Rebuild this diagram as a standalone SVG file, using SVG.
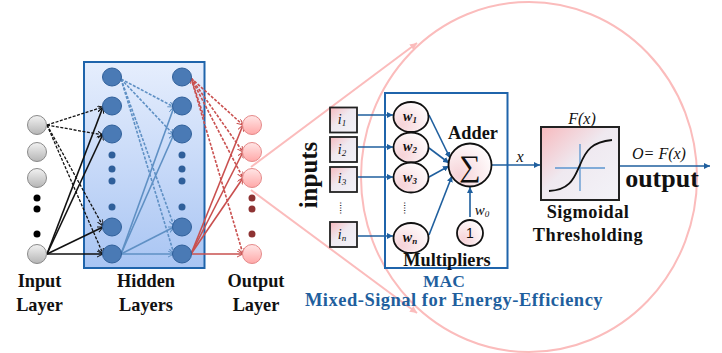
<svg xmlns="http://www.w3.org/2000/svg" width="722" height="353" viewBox="0 0 722 353">
<defs>
<linearGradient id="bx" x1="0" y1="0" x2="0" y2="1"><stop offset="0" stop-color="#e6eefd"/><stop offset="1" stop-color="#a9c5f3"/></linearGradient>
<linearGradient id="gy" x1="0" y1="0" x2="0" y2="1"><stop offset="0" stop-color="#f2f2f2"/><stop offset="1" stop-color="#b5b5b5"/></linearGradient>
<linearGradient id="pk" x1="0" y1="0" x2="0" y2="1"><stop offset="0" stop-color="#ffe6e6"/><stop offset="1" stop-color="#ffa8a8"/></linearGradient>
<linearGradient id="sq" x1="0" y1="0" x2="1" y2="1"><stop offset="0" stop-color="#f7b9bd"/><stop offset="0.45" stop-color="#efe9f0"/><stop offset="1" stop-color="#f3f3f8"/></linearGradient>
<radialGradient id="nd" cx="0.25" cy="0.75" r="0.9"><stop offset="0" stop-color="#f6d3d8"/><stop offset="1" stop-color="#ffffff"/></radialGradient>
<marker id="ak" markerWidth="8" markerHeight="8" refX="6" refY="3" orient="auto" markerUnits="userSpaceOnUse"><path d="M0,0L6,3L0,6" fill="none" stroke="#111" stroke-width="1"/></marker>
<marker id="ab" markerWidth="8" markerHeight="8" refX="6" refY="3" orient="auto" markerUnits="userSpaceOnUse"><path d="M0,0L6,3L0,6" fill="none" stroke="#5f90c4" stroke-width="1"/></marker>
<marker id="ar" markerWidth="8" markerHeight="8" refX="6" refY="3" orient="auto" markerUnits="userSpaceOnUse"><path d="M0,0L6,3L0,6" fill="none" stroke="#c9504f" stroke-width="1"/></marker>
<marker id="ad" markerWidth="7" markerHeight="6" refX="6" refY="3" orient="auto" markerUnits="userSpaceOnUse"><path d="M0,0L6,3L0,6Z" fill="#1f5f9e"/></marker>
<marker id="ap" markerWidth="8" markerHeight="8" refX="7" refY="3.500" orient="auto" markerUnits="userSpaceOnUse"><path d="M0,0L7,3.500L0,7Z" fill="#fbbcbc"/></marker>
</defs>
<style>
text{font-family:"Liberation Serif",serif;fill:#111}
.lb{font-weight:bold;font-size:18.300px;text-anchor:middle}
.wd{letter-spacing:.5px}
.i{font-style:italic;text-anchor:middle}
.iw{font-style:italic;font-weight:bold;font-size:14px;text-anchor:middle}
.blue{fill:#1f5f9e;font-weight:bold;text-anchor:middle;font-size:18.500px}
.in{fill:url(#gy);stroke:#8a8a8a;stroke-width:1}
.hd{fill:#4a7ab5;stroke:#2f5f9a;stroke-width:1}
.ou{fill:url(#pk);stroke:#e58a8a;stroke-width:1}
.dk{stroke:#111;stroke-width:1.600;fill:none;marker-end:url(#ak)}
.dd{stroke-dasharray:3 1.500;stroke-width:1.300}
.bl{stroke:#5f90c4;stroke-width:1.600;fill:none;marker-end:url(#ab)}
.rd{stroke:#c9504f;stroke-width:1.600;fill:none;marker-end:url(#ar)}
.dr{stroke:#1f5f9e;stroke-width:1.600;fill:none;marker-end:url(#ad)}
.sb{fill:url(#sq);stroke:#222;stroke-width:1.800}
.mul{fill:url(#nd);stroke:#111;stroke-width:1.800}
</style>
<g id="zoom-cone" fill="none" stroke="#fbbcbc" stroke-width="2">
<ellipse cx="529" cy="177" rx="168" ry="175"/>
<path d="M251,167L417,43" marker-end="url(#ap)"/><path d="M251,190L417,313" marker-end="url(#ap)"/>
</g>
<g id="hidden-box"><rect x="84" y="62" width="120.500" height="206" fill="url(#bx)" stroke="#1f64ab" stroke-width="2"/></g>
<g id="connectors">
<path class="dk dd" d="M47,125L103,107"/><path class="dk dd" d="M47,125L103,135"/><path class="dk dd" d="M47,125L103,226"/><path class="dk dd" d="M47,125L103,254"/>
<path class="dk" d="M47,254L103,107"/><path class="dk" d="M47,254L103,134"/><path class="dk" d="M47,254L103,227"/><path class="dk" d="M47,254L103,254"/>
<path class="bl dd" d="M121,79L174,107"/><path class="bl dd" d="M121,79L174,135"/><path class="bl dd" d="M121,79L174,226"/><path class="bl dd" d="M121,79L174,254"/>
<path class="bl" d="M121,254L174,107"/><path class="bl" d="M121,254L174,134"/><path class="bl" d="M121,254L174,227"/><path class="bl" d="M121,254L174,254"/>
<path class="rd dd" d="M191,78L243,125"/><path class="rd dd" d="M191,78L243,152"/><path class="rd dd" d="M191,78L243,178"/><path class="rd dd" d="M191,78L243,254"/>
<path class="rd dd" d="M204,117L191,78"/>
<path class="rd" d="M191,254L243,125"/><path class="rd" d="M191,254L243,152"/><path class="rd" d="M191,254L243,178"/><path class="rd" d="M191,254L243,254"/>
<path class="dr" d="M358,115L393,115"/><path class="dr" d="M358,147L393,147"/><path class="dr" d="M358,177L393,177"/><path class="dr" d="M358,236L393,236"/>
<path class="dr" d="M429,115L450,158"/><path class="dr" d="M429,148L449,163"/><path class="dr" d="M429,177L449,166"/><path class="dr" d="M429,235L452,176"/>
<path class="dr" d="M470,217L470,187"/>
<path class="dr" d="M492,165L540,165"/>
<path class="dr" d="M619,166L710,166"/>
</g>
<g id="input-layer">
<circle class="in" cx="37" cy="125" r="9.500"/><circle class="in" cx="37" cy="152" r="9.500"/><circle class="in" cx="37" cy="178" r="9.500"/><circle class="in" cx="37" cy="254" r="9.500"/>
<g fill="#000"><circle cx="37" cy="198" r="3.500"/><circle cx="37" cy="209" r="3.500"/><circle cx="37" cy="234" r="3.500"/></g>
<text class="lb" x="39.500" y="287">Input</text><text class="lb" x="39.500" y="311">Layer</text>
</g>
<g id="hidden-layers">
<ellipse class="hd" cx="112" cy="77" rx="9.500" ry="9"/><ellipse class="hd" cx="112" cy="106" rx="9.500" ry="9"/><ellipse class="hd" cx="112" cy="134" rx="9.500" ry="9"/><ellipse class="hd" cx="112" cy="227" rx="9.500" ry="9"/><ellipse class="hd" cx="112" cy="254" rx="9.500" ry="9"/>
<ellipse class="hd" cx="182" cy="77" rx="9.500" ry="9"/><ellipse class="hd" cx="182" cy="106" rx="9.500" ry="9"/><ellipse class="hd" cx="182" cy="134" rx="9.500" ry="9"/><ellipse class="hd" cx="182" cy="227" rx="9.500" ry="9"/><ellipse class="hd" cx="182" cy="254" rx="9.500" ry="9"/>
<g fill="#2f5f9a"><circle cx="112" cy="155" r="3.500"/><circle cx="112" cy="169" r="3.500"/><circle cx="112" cy="181" r="3.500"/><circle cx="112" cy="207" r="3.500"/><circle cx="182" cy="155" r="3.500"/><circle cx="182" cy="169" r="3.500"/><circle cx="182" cy="181" r="3.500"/><circle cx="182" cy="207" r="3.500"/></g>
<text class="lb" x="146" y="287">Hidden</text><text class="lb" x="146" y="311">Layers</text>
</g>
<g id="output-layer">
<circle class="ou" cx="252" cy="125" r="9.500"/><circle class="ou" cx="252" cy="152" r="9.500"/><circle class="ou" cx="252" cy="178" r="9.500"/><circle class="ou" cx="252" cy="254" r="9.500"/>
<g fill="#8e3333"><circle cx="252" cy="198" r="3.500"/><circle cx="252" cy="209" r="3.500"/><circle cx="252" cy="234" r="3.500"/></g>
<text class="lb" x="256" y="287">Output</text><text class="lb" x="256" y="311">Layer</text>
</g>
<g id="inputs">
<text x="317" y="175" transform="rotate(-90 317 175)" text-anchor="middle" font-weight="bold" font-size="25">inputs</text>
<rect class="sb" x="330" y="107.500" width="27" height="25"/><text class="i" x="342" y="124" font-size="14">i<tspan font-size="9" dy="2">1</tspan></text>
<rect class="sb" x="330" y="137" width="27" height="25"/><text class="i" x="342" y="154" font-size="14">i<tspan font-size="9" dy="2">2</tspan></text>
<rect class="sb" x="330" y="167" width="27" height="25"/><text class="i" x="342" y="183" font-size="14">i<tspan font-size="9" dy="2">3</tspan></text>
<text x="344" y="212" font-size="10" text-anchor="middle" transform="rotate(90 344 208)">.....</text>
<rect class="sb" x="330" y="222" width="27" height="25"/><text class="i" x="342" y="239" font-size="14">i<tspan font-size="9" dy="2">n</tspan></text>
</g>
<g id="mac">
<rect x="385" y="93" width="122.500" height="175" fill="none" stroke="#1f64ab" stroke-width="2"/>
<text x="447" y="266" class="lb">Multipliers</text>
<text x="444" y="287" class="blue" style="font-size:17.500px">MAC</text>
<text x="454" y="306" class="blue wd">Mixed-Signal for Energy-Efficiency</text>
</g>
<g id="multipliers">
<ellipse class="mul" cx="411" cy="117" rx="17.500" ry="15"/><text class="iw" x="410" y="121">w<tspan font-size="9" dy="2">1</tspan></text>
<ellipse class="mul" cx="411" cy="147.500" rx="17.500" ry="15"/><text class="iw" x="410" y="151">w<tspan font-size="9" dy="2">2</tspan></text>
<ellipse class="mul" cx="411" cy="177.500" rx="17.500" ry="15"/><text class="iw" x="410" y="182">w<tspan font-size="9" dy="2">3</tspan></text>
<text x="408" y="212" font-size="10" text-anchor="middle" transform="rotate(90 408 208)">.....</text>
<ellipse class="mul" cx="411" cy="238" rx="17.500" ry="15"/><text class="iw" x="410" y="242">w<tspan font-size="9" dy="2">n</tspan></text>
</g>
<g id="adder">
<circle class="mul" cx="470" cy="165" r="21.500"/>
<text x="470" y="176" font-size="30" text-anchor="middle">∑</text>
<text class="lb" x="473" y="139">Adder</text>
<text class="i" x="482" y="215" font-size="15">w<tspan font-size="9" dy="2">0</tspan></text>
</g>
<g id="one"><circle class="mul" cx="470" cy="233" r="13"/><text x="470" y="238" font-size="14" text-anchor="middle" style="font-family:'Liberation Sans',sans-serif">1</text></g>
<text class="i" x="520" y="162" font-size="16">x</text>
<g id="sigmoid">
<text class="i" x="582" y="124" font-size="16">F(x)</text>
<rect x="541" y="127" width="78" height="73" fill="url(#sq)" stroke="#222" stroke-width="2"/>
<path d="M555,168L605,168M580,144L580,191" stroke="#5b95cf" stroke-width="1.300" fill="none"/>
<path d="M549,191C572,190 575,175 580,165C586,150 592,142 612,140" stroke="#111" stroke-width="1.800" fill="none"/>
<text class="lb wd" x="588" y="218">Sigmoidal</text>
<text class="lb wd" x="588" y="241">Thresholding</text>
</g>
<g id="output">
<text class="i" x="659" y="159" font-size="16">O= F(x)</text>
<text x="662" y="187" font-size="26" font-weight="bold" text-anchor="middle">output</text>
</g>
</svg>
